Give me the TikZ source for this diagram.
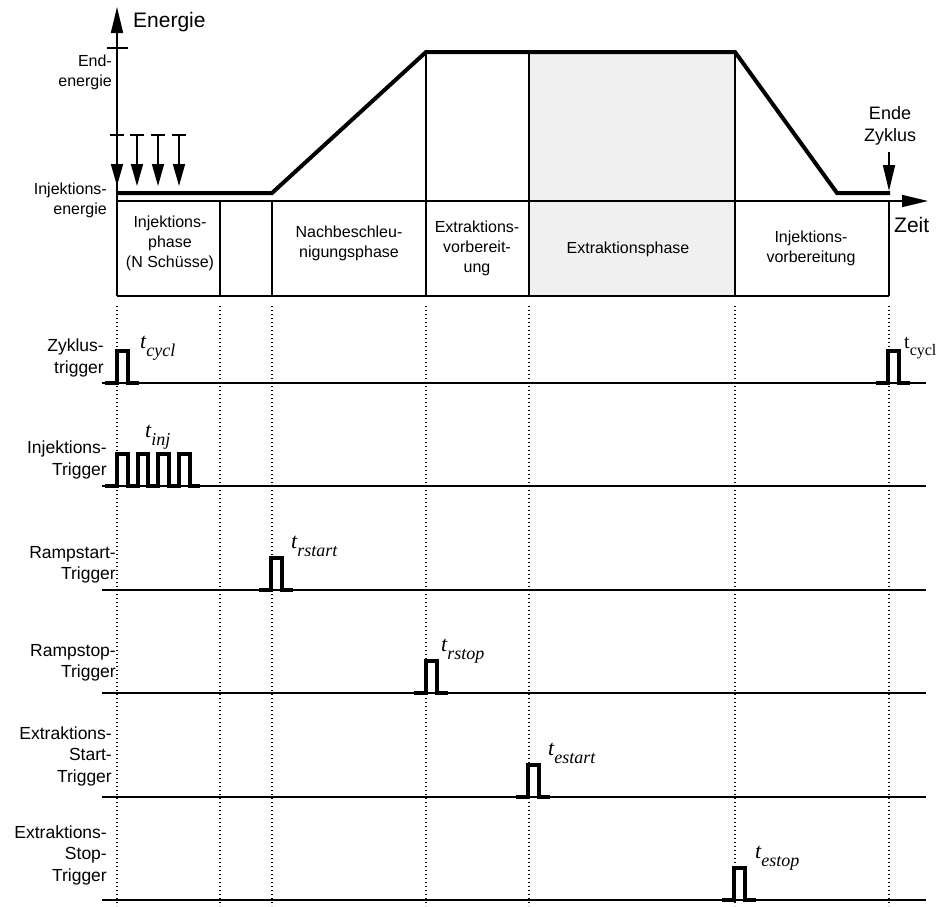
\documentclass[tikz,border=0pt]{standalone}
\usepackage{fontspec}
\setmainfont{Liberation Sans}
\newfontfamily\timesfont{Liberation Serif}
\usetikzlibrary{calc, arrows.meta}

\tikzstyle{every node}=[font=\fontsize{16}{20}\selectfont, inner sep=0pt]
\tikzset{
	kurve/.style={line width=4pt, line join=miter},
	duenn/.style={line width=1.7pt},
	puls/.style={line width=3.3pt, line join=miter},
	raster/.style={line width=1.4pt, dash pattern=on 1.4pt off 2.6pt},
	pfeil/.style={-{Triangle[length=26pt,width=12pt]}, line width=1.7pt},
	schuss/.style={-{Triangle[length=22pt,width=12pt]}, line width=1.7pt},
	signal/.style={font=\fontsize{17.5}{21.5}\selectfont, align=right, anchor=east},
	phase/.style={align=center}
}
% zeitmarke t mit tiefgestelltem index
\newcommand{\tlab}[1]{{\timesfont\itshape\fontsize{22}{22}\selectfont t\raisebox{-8pt}{\fontsize{18}{18}\selectfont #1}}}
% trigger-impuls an der stelle #1 auf der grundlinie #2
\newcommand{\impuls}[2]{\draw[puls] (#1-12,#2) -- (#1,#2) -- (#1,#2-32) -- (#1+11,#2-32) -- (#1+11,#2) -- (#1+22,#2);}

\begin{document}
\begin{tikzpicture}[x=1pt, y=-1pt]
	\useasboundingbox (0,0) rectangle (944,906);
	\colorlet{grau}{black!6}
	
%%%%     ENERGIEVERLAUF     %%%%

	% extraktionsphase grau
	\fill[grau] (529,52) rectangle (735,296);
	
	% phasenkasten
	\draw[duenn] (117,296) -- (889,296);
	\foreach \x in {220,272,889}
		\draw[duenn] (\x,201) -- (\x,296);
	\foreach \x in {426,529,735}
		\draw[duenn] (\x,52) -- (\x,296);
	
	% achsen
	\draw[pfeil] (117,296) -- (117,7);
	\draw[pfeil] (117,201) -- (928,201);
	\draw[duenn] (107,48) -- (128,48);
	\node[anchor=west, font=\fontsize{21}{21}\selectfont] (energie) at (133,22) {Energie};
	\node[anchor=west, font=\fontsize{21}{21}\selectfont] (zeit) at (894,225) {Zeit};
	\node[align=right, anchor=east] (endenergie) at (112,72) {End-\\energie};
	\node[align=right, anchor=east] (injenergie) at (107,200) {Injektions-\\energie};
	
	% schuesse
	\foreach \x in {117,137,158,179} {
		\draw[duenn] (\x-7,135) -- (\x+7,135);
		\draw[schuss] (\x,135) -- (\x,186);
	}
	
	% energie
	\draw[kurve] (117,193) -- (272,193) -- (426,52) -- (735,52) -- (837,193) -- (890,193);
	
	% ende zyklus
	\node[align=center, font=\fontsize{18}{22}\selectfont] (ende) at (890,126) {Ende\\Zyklus};
	\draw[pfeil] (889,152) -- (889,191);
	
	% phasen
	\node[phase] (p1) at (170,243) {Injektions-\\phase\\(N Schüsse)};
	\node[phase] (p2) at (349,243) {Nachbeschleu-\\nigungsphase};
	\node[phase] (p3) at (477,248) {Extraktions-\\vorbereit-\\ung};
	\node[phase] (p4) at (628,249) {Extraktionsphase};
	\node[phase] (p5) at (811,248) {Injektions-\\vorbereitung};
	
%%%%     TRIGGER     %%%%

	% rasterlinien
	\foreach \x in {117,220,272,426,529,735,889}
		\draw[raster] (\x,306) -- (\x,906);
	
	% grundlinien
	\foreach \y in {383,486,590,693,797,900}
		\draw[duenn] (102,\y) -- (926,\y);
	
	% zyklus
	\node[signal] (zyklus) at (104,358) {Zyklus-\\trigger};
	\impuls{117}{383}
	\impuls{888}{383}
	\node[anchor=base west] (tcycl) at (140,348) {\tlab{cycl}};
	\node[anchor=base west] (tcycl2) at (904,348) {{\timesfont\fontsize{20}{20}\selectfont t\raisebox{-7pt}{\fontsize{16}{16}\selectfont cycl}}};
	
	% injektion
	\node[signal] (injektion) at (107,460) {Injektions-\\Trigger};
	\draw[puls] (105,486) -- (117,486) -- (117,454) -- (128,454) -- (128,486)
		-- (138,486) -- (138,454) -- (148,454) -- (148,486)
		-- (158,486) -- (158,454) -- (169,454) -- (169,486)
		-- (179,486) -- (179,454) -- (190,454) -- (190,486) -- (200,486);
	\node[anchor=base west] (tinj) at (145,437) {\tlab{inj}};
	
	% rampe
	\node[signal] (rstart) at (116,565) {Rampstart-\\Trigger};
	\impuls{271}{590}
	\node[anchor=base west] (trstart) at (291,548) {\tlab{rstart}};
	
	\node[signal] (rstop) at (116,663) {Rampstop-\\Trigger};
	\impuls{426}{693}
	\node[anchor=base west] (trstop) at (441,651) {\tlab{rstop}};
	
	% extraktion
	\node[signal] (estart) at (112,756) {Extraktions-\\Start-\\Trigger};
	\impuls{528}{797}
	\node[anchor=base west] (testart) at (548,755) {\tlab{estart}};
	
	\node[signal] (estop) at (107,855) {Extraktions-\\Stop-\\Trigger};
	\impuls{734}{900}
	\node[anchor=base west] (testop) at (755,858) {\tlab{estop}};
	
\end{tikzpicture}
\end{document}
